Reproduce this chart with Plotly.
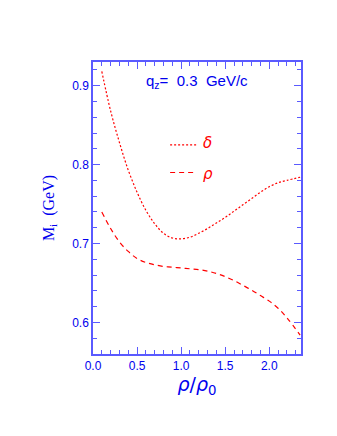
import plotly.graph_objects as go

# delta (dotted) curve
delta_x = [0.10, 0.20, 0.30, 0.40, 0.50, 0.60, 0.70, 0.80, 0.90, 1.00, 1.10, 1.20,
           1.30, 1.40, 1.50, 1.60, 1.70, 1.80, 1.90, 2.00, 2.10, 2.20, 2.35]
delta_y = [0.918, 0.868, 0.828, 0.793, 0.765, 0.742, 0.725, 0.713, 0.707, 0.706, 0.708, 0.713,
           0.719, 0.726, 0.733, 0.741, 0.749, 0.757, 0.765, 0.772, 0.777, 0.780, 0.784]
# rho (dashed) curve
rho_x = [0.10, 0.20, 0.30, 0.40, 0.50, 0.60, 0.70, 0.80, 0.90, 1.00, 1.10, 1.20, 1.30,
         1.40, 1.50, 1.60, 1.70, 1.80, 1.90, 2.00, 2.10, 2.20, 2.35]
rho_y = [0.740, 0.719, 0.702, 0.690, 0.681, 0.676, 0.673, 0.671, 0.670, 0.669, 0.668, 0.667, 0.665,
         0.662, 0.658, 0.653, 0.647, 0.641, 0.634, 0.627, 0.618, 0.606, 0.584]

BLUE = "#0000ee"
AX = "#5a5aff"
RED = "#ff0000"
DOT = "2px,2px"
DASH = "5px,4px"

fig = go.Figure()
fig.add_trace(go.Scatter(x=delta_x, y=delta_y, mode="lines", line=dict(color=RED, width=1.2, dash=DOT, shape="spline"), showlegend=False))
fig.add_trace(go.Scatter(x=rho_x, y=rho_y, mode="lines", line=dict(color=RED, width=1.2, dash=DASH, shape="spline"), showlegend=False))

# legend samples
fig.add_trace(go.Scatter(x=[0.875, 1.17], y=[0.825, 0.825], mode="lines", line=dict(color=RED, width=1.2, dash=DOT), showlegend=False))
fig.add_trace(go.Scatter(x=[0.875, 1.17], y=[0.790, 0.790], mode="lines", line=dict(color=RED, width=1.2, dash=DASH), showlegend=False))
fig.add_annotation(x=1.23, y=0.827, text="<i>δ</i>", showarrow=False, xanchor="left", font=dict(color=RED, size=15, family="DejaVu Sans"))
fig.add_annotation(x=1.23, y=0.788, text="<i>ρ</i>", showarrow=False, xanchor="left", font=dict(color=RED, size=15, family="DejaVu Sans"))
fig.add_annotation(x=1.18, y=0.905, text="q<sub>z</sub>=  0.3  GeV/c", showarrow=False, xanchor="center",
                   font=dict(color=BLUE, size=15, family="Liberation Sans"))

axis_common = dict(
    showgrid=False, zeroline=False, showline=True, linecolor=AX, linewidth=1.5, mirror="ticks",
    ticks="inside", tickcolor=AX, tickwidth=1.2, ticklen=7,
    tickfont=dict(color=BLUE, size=12, family="Liberation Sans"),
)
fig.update_xaxes(range=[0, 2.36], dtick=0.5, tick0=0, tickformat=".1f",
                 minor=dict(dtick=0.1, ticks="inside", ticklen=4, tickcolor=AX, tickwidth=1),
                 title=dict(text="<i>ρ</i>/<i>ρ</i><sub>0</sub>", font=dict(color=BLUE, size=19, family="DejaVu Sans"), standoff=4),
                 **axis_common)
fig.update_yaxes(range=[0.56, 0.93], dtick=0.1, tick0=0.6, tickformat=".1f",
                 minor=dict(dtick=0.02, tick0=0.6, ticks="inside", ticklen=4, tickcolor=AX, tickwidth=1),
                 title=dict(text="M<sub>i</sub>  (GeV)", font=dict(color=BLUE, size=16, family="Liberation Serif"), standoff=14),
                 **axis_common)

# page body adds an 8px offset; margins compensate so the frame sits at x 93-301, y 62-354
fig.update_layout(width=337, height=436, margin=dict(l=85, r=44, t=54, b=90),
                  plot_bgcolor="white", paper_bgcolor="white")
fig.write_html("out.html")
